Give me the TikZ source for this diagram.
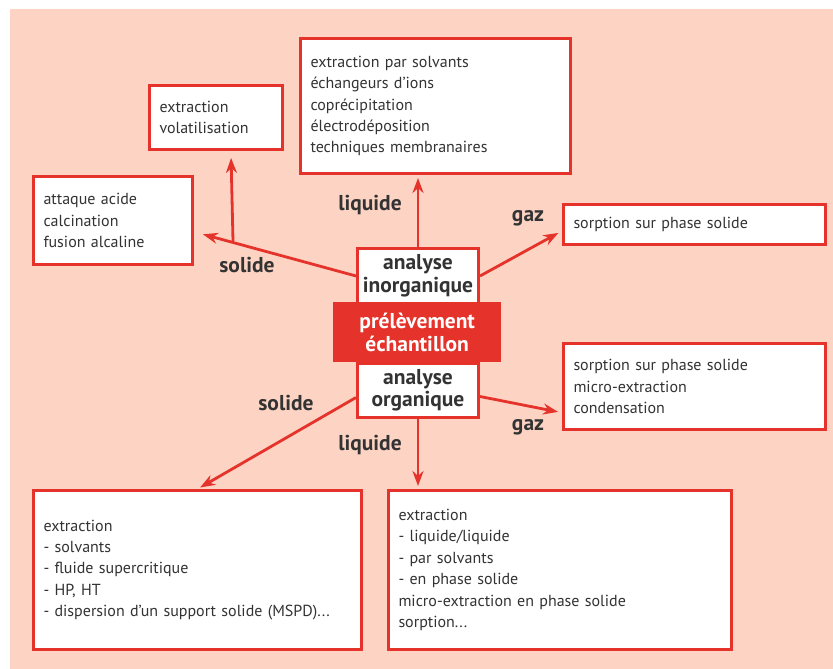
\documentclass[tikz,border=0pt]{standalone}
\usepackage{fontspec}
\setmainfont{PT Sans}
\usetikzlibrary{arrows.meta,calc}
\definecolor{Brick}{HTML}{E5322A}
\definecolor{Peach}{HTML}{FDD4C4}
\definecolor{Ink}{HTML}{333333}

\begin{document}
\begin{tikzpicture}[x=1pt,y=-1pt,>={Stealth[length=15pt,width=11pt]},
    box/.style 2 args={draw=Brick,line width=3pt,fill=white,anchor=north west,inner xsep=10pt,inner ysep=0pt,
      text width=#1-20pt,minimum height=#2,align=left,text=Ink,font=\fontsize{16}{21.4}\selectfont},
    core/.style={draw=Brick,line width=3pt,fill=white,anchor=north west,inner sep=0pt,minimum width=121pt,
      minimum height=55pt,align=center,text=Ink,font=\bfseries\fontsize{21.5}{22.5}\selectfont},
    lab/.style={text=Ink,font=\bfseries\fontsize{21.5}{22}\selectfont},
    arr/.style={->,draw=Brick,line width=2.8pt,shorten >=3pt}]
  \useasboundingbox (0,0) rectangle (833,669);
  \fill[Peach] (10,9) rectangle (833,669);

  % boxes
  \node[box={133pt}{64pt}] (volat) at (148,84) {extraction\\volatilisation};
  \node[box={270pt}{135pt}] (liqA) at (299,37) {extraction par solvants\\échangeurs d’ions\\coprécipitation\\électrodéposition\\techniques membranaires};
  \node[box={159pt}{88pt}] (attaque) at (32,175) {attaque acide\\calcination\\fusion alcaline};
  \node[box={262pt}{40pt}] (gazA) at (562,203) {sorption sur phase solide};
  \node[box={262pt}{86pt}] (gazB) at (562,342) {sorption sur phase solide\\micro-extraction\\condensation};
  \node[box={328pt}{159pt}] (solidB) at (32,489) {extraction\\- solvants\\- fluide supercritique\\- HP, HT\\- dispersion d’un support solide (MSPD)...};
  \node[box={343pt}{159pt}] (liqB) at (387,489) {extraction\\- liquide/liquide\\- par solvants\\- en phase solide\\micro-extraction en phase solide\\sorption...};

  % centre
  \node[core] (inorg) at (356,247) {analyse\\inorganique};
  \node[core,minimum height=54pt] (org) at (356,362) {analyse\\organique};
  \node[fill=Brick,anchor=north west,inner sep=0pt,minimum width=168pt,minimum height=60pt,align=center,
    text=white,font=\bfseries\fontsize{21.5}{22.5}\selectfont] (prel) at (333,302) {prélèvement\\échantillon};

  % connectors
  \coordinate (fork) at (233,241);
  \draw[arr] (inorg.west) -- ($(attaque.east)+(6,13)$);
  \draw[arr] (fork) -- ($(volat.south)+(15,4)$);
  \draw[arr] (inorg.north) -- (inorg.north |- liqA.south);
  \draw[arr] (inorg.east) -- ($(gazA.west)+(-1,7)$);
  \draw[arr] ($(org.west)+(0,7)$) -- (solidB.north);
  \draw[arr] (org.south) -- (org.south |- liqB.north);
  \draw[arr] ($(org.east)+(0,6)$) -- ($(gazB.west)+(-1,26)$);

  % labels
  \node[lab] (l1) at (370,205) {liquide};
  \node[lab] (l2) at (247,265) {solide};
  \node[lab] (l3) at (528,218) {gaz};
  \node[lab] (l4) at (286,403) {solide};
  \node[lab] (l5) at (370,445) {liquide};
  \node[lab] (l6) at (528,427) {gaz};
\end{tikzpicture}
\end{document}
